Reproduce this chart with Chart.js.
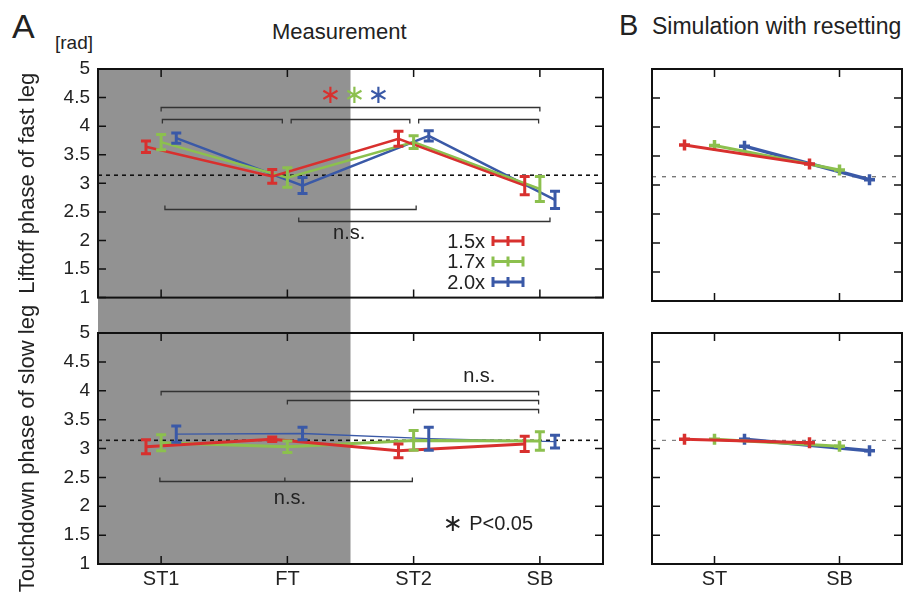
<!DOCTYPE html>
<html>
<head>
<meta charset="utf-8">
<script src="https://cdn.jsdelivr.net/npm/chart.js@4.4.0/dist/chart.umd.min.js"></script>
<style>
  body { margin: 0; background: #fff; }
  #fig { position: relative; width: 911px; height: 596px; font-family: "Liberation Sans", Arial, sans-serif; color: #222; }
  #fig canvas { position: absolute; }
  .lbl { position: absolute; white-space: nowrap; line-height: 1; }
</style>
</head>
<body>
<div id="fig">
  <div class="lbl" style="left:12px;top:9px;font-size:34px">A</div>
  <div class="lbl" style="left:55px;top:33px;font-size:19px">[rad]</div>
  <div class="lbl" style="left:272px;top:21px;font-size:22px">Measurement</div>
  <div class="lbl" style="left:619px;top:11px;font-size:29px">B</div>
  <div class="lbl" style="left:652px;top:15px;font-size:23px">Simulation with resetting</div>
  <canvas id="a1" width="620" height="317" style="left:0;top:0"></canvas>
  <canvas id="a2" width="620" height="296" style="left:0;top:300px"></canvas>
  <canvas id="b1" width="291" height="317" style="left:620px;top:0"></canvas>
  <canvas id="b2" width="291" height="296" style="left:620px;top:300px"></canvas>
</div>
<script>
// categories and ticks
const categories = ["ST1", "FT", "ST2", "SB"];
const simCategories = ["ST", "SB"];
const seriesLabels = ["1.5x", "1.7x", "2.0x"];
const seriesColors = ["#d8302e", "#8cc04e", "#3a59a7"];
const yTickValues = [1, 1.5, 2, 2.5, 3, 3.5, 4, 4.5, 5];

// measurement: liftoff phase of fast leg (mean / error)
const liftRed = [3.64, 3.12, 3.78, 2.96];
const liftGreen = [3.72, 3.10, 3.72, 2.90];
const liftBlue = [3.79, 2.96, 3.83, 2.71];
const liftRedErr = [0.10, 0.12, 0.13, 0.16];
const liftGreenErr = [0.135, 0.17, 0.11, 0.22];
const liftBlueErr = [0.09, 0.14, 0.09, 0.15];

// measurement: touchdown phase of slow leg (mean / error)
const touchRed = [3.03, 3.16, 2.96, 3.08];
const touchGreen = [3.10, 3.03, 3.14, 3.13];
const touchBlue = [3.25, 3.26, 3.17, 3.12];
const touchRedErr = [0.12, 0.04, 0.12, 0.13];
const touchGreenErr = [0.14, 0.10, 0.17, 0.16];
const touchBlueErr = [0.14, 0.11, 0.20, 0.11];

// simulation with resetting
const simLiftRed = [3.69, 3.36];
const simLiftGreen = [3.68, 3.26];
const simLiftBlue = [3.67, 3.09];
const simTouchRed = [3.16, 3.10];
const simTouchGreen = [3.16, 3.04];
const simTouchBlue = [3.16, 2.96];

// significance brackets (x in category units, y in rad)
const liftBrackets = [
  { from: 1, to: 4, y: 4.33, dir: "down" },
  { from: 1.01, to: 1.96, y: 4.12, dir: "down" },
  { from: 2.03, to: 2.97, y: 4.12, dir: "down" },
  { from: 3.04, to: 3.99, y: 4.12, dir: "down" },
  { from: 1.03, to: 3.02, y: 2.55, dir: "up" },
  { from: 2.09, to: 4.08, y: 2.34, dir: "up" }
];
const touchBrackets = [
  { from: 1, to: 3.99, y: 3.99, dir: "down" },
  { from: 2, to: 3.99, y: 3.84, dir: "down" },
  { from: 3, to: 3.99, y: 3.68, dir: "down" },
  { from: 0.99, to: 2.99, y: 2.44, dir: "up", mid: [1.98] }
];

const TXT = "#222";
const FONT = '"Liberation Sans", Arial, sans-serif';
const STAR = '"DejaVu Sans", sans-serif';

function decor(cfg) {
  return {
    id: "decor",
    beforeDatasetsDraw(chart) {
      const { ctx, chartArea: a, scales: { x, y } } = chart;
      ctx.save();
      if (cfg.gray) {
        // shaded phase; the top panel also fills the gap down to the lower panel
        const g1 = x.getPixelForValue(cfg.gray[0]);
        const g2 = x.getPixelForValue(cfg.gray[1]);
        const top = cfg.grayDown ? a.top : a.top - 16;
        const bot = cfg.grayDown ? chart.height : a.bottom;
        ctx.fillStyle = "#929292";
        ctx.fillRect(g1, top, g2 - g1, bot - top);
      }
      // reference line at pi
      const py = y.getPixelForValue(Math.PI);
      ctx.setLineDash(cfg.piDash);
      ctx.strokeStyle = cfg.piColor;
      ctx.lineWidth = cfg.piWidth;
      ctx.beginPath();
      ctx.moveTo(a.left, py);
      ctx.lineTo(a.right, py);
      ctx.stroke();
      ctx.setLineDash([]);
      // brackets
      ctx.strokeStyle = "#333";
      ctx.lineWidth = 1.3;
      (cfg.brackets || []).forEach(b => {
        const x1 = x.getPixelForValue(b.from), x2 = x.getPixelForValue(b.to);
        const yy = Math.round(y.getPixelForValue(b.y)) + 0.5;
        const t = b.dir === "up" ? -4 : 4;
        ctx.beginPath();
        ctx.moveTo(x1, yy + t); ctx.lineTo(x1, yy); ctx.lineTo(x2, yy); ctx.lineTo(x2, yy + t);
        (b.mid || []).forEach(m => {
          const xm = x.getPixelForValue(m);
          ctx.moveTo(xm, yy); ctx.lineTo(xm, yy + t);
        });
        ctx.stroke();
      });
      ctx.restore();
    },
    afterDatasetsDraw(chart) {
      const { ctx, chartArea: a, scales: { x, y } } = chart;
      ctx.save();
      // error bars
      if (cfg.errs) {
        ctx.lineWidth = 3;
        cfg.means.forEach((m, s) => {
          ctx.strokeStyle = seriesColors[s];
          m.forEach((v, i) => {
            const px = x.getPixelForValue(i + 1 + cfg.shift[s]);
            const e = cfg.errs[s][i];
            const y1 = y.getPixelForValue(v + e), y2 = y.getPixelForValue(v - e);
            ctx.beginPath();
            ctx.moveTo(px, y1); ctx.lineTo(px, y2);
            ctx.moveTo(px - 5, y1); ctx.lineTo(px + 5, y1);
            ctx.moveTo(px - 5, y2); ctx.lineTo(px + 5, y2);
            ctx.stroke();
          });
        });
      }
      // frame and inward ticks
      ctx.strokeStyle = "#111";
      ctx.lineWidth = 2;
      ctx.strokeRect(a.left, a.top, a.width, a.height);
      ctx.lineWidth = 1.5;
      ctx.beginPath();
      yTickValues.forEach(v => {
        const py = y.getPixelForValue(v);
        ctx.moveTo(a.left, py); ctx.lineTo(a.left + 8, py);
        ctx.moveTo(a.right, py); ctx.lineTo(a.right - 8, py);
      });
      cfg.cats.forEach((c, i) => {
        const px = x.getPixelForValue(i + 1);
        ctx.moveTo(px, a.top); ctx.lineTo(px, a.top + 8);
        ctx.moveTo(px, a.bottom); ctx.lineTo(px, a.bottom - 8);
      });
      ctx.stroke();
      // text annotations
      (cfg.texts || []).forEach(t => {
        ctx.fillStyle = t.color || TXT;
        ctx.font = t.font;
        ctx.textAlign = t.align || "center";
        ctx.textBaseline = "middle";
        ctx.fillText(t.text, x.getPixelForValue(t.x), y.getPixelForValue(t.y));
      });
      // legend with error-bar samples
      if (cfg.legend) {
        seriesLabels.forEach((lab, s) => {
          const ly = a.top + 172 + s * 20.5;
          const tx = a.left + 387;
          ctx.fillStyle = TXT;
          ctx.font = "20px " + FONT;
          ctx.textAlign = "right";
          ctx.textBaseline = "middle";
          ctx.fillText(lab, tx, ly + 1);
          const x1 = tx + 8, x2 = tx + 38, xm = (x1 + x2) / 2;
          ctx.strokeStyle = seriesColors[s];
          ctx.lineWidth = 3;
          ctx.beginPath();
          ctx.moveTo(x1, ly); ctx.lineTo(x2, ly);
          [x1, xm, x2].forEach(px => { ctx.moveTo(px, ly - 5); ctx.lineTo(px, ly + 5); });
          ctx.stroke();
        });
      }
      ctx.restore();
    }
  };
}

function makeChart(id, cfg) {
  const datasets = cfg.means.map((m, s) => ({
    label: seriesLabels[s],
    data: m.map((v, i) => ({ x: i + 1 + cfg.shift[s], y: v })),
    borderColor: seriesColors[s],
    backgroundColor: seriesColors[s],
    borderWidth: cfg.lineWidths[s],
    pointRadius: cfg.points ? 5.5 : 0,
    pointStyle: "cross",
    pointBorderWidth: 3.5,
    tension: 0
  }));
  return new Chart(document.getElementById(id), {
    type: "line",
    data: { datasets },
    options: {
      responsive: false,
      animation: false,
      devicePixelRatio: 1,
      layout: { padding: cfg.padding },
      plugins: { legend: { display: false }, tooltip: { enabled: false } },
      scales: {
        x: {
          type: "linear",
          min: 0.5,
          max: cfg.cats.length + 0.5,
          display: cfg.showX,
          afterBuildTicks: s => { s.ticks = cfg.cats.map((c, i) => ({ value: i + 1 })); },
          afterFit: s => { if (cfg.showX) s.height = 32; },
          grid: { display: false, drawTicks: false },
          border: { display: false },
          ticks: {
            autoSkip: false,
            maxRotation: 0,
            padding: 3,
            color: TXT,
            font: { family: FONT, size: 20 },
            callback: v => cfg.cats[Math.round(v) - 1]
          }
        },
        y: {
          type: "linear",
          min: 1,
          max: 5,
          display: cfg.showY,
          afterBuildTicks: s => { s.ticks = yTickValues.map(v => ({ value: v })); },
          afterFit: s => { if (cfg.showY) s.width = 98; },
          grid: { display: false, drawTicks: false },
          border: { display: false },
          ticks: { autoSkip: false, padding: 8, color: TXT, font: { family: FONT, size: 19 }, callback: v => String(v) },
          title: {
            display: !!cfg.yTitle,
            text: cfg.yTitle || "",
            color: TXT,
            font: { family: FONT, size: 22 },
            padding: { top: 15, bottom: 0 }
          }
        }
      }
    },
    plugins: [decor(cfg)]
  });
}

const shiftA = [-0.12, 0, 0.12];
const shiftB = [-0.24, 0, 0.24];

makeChart("a1", {
  cats: categories, shift: shiftA, showX: false, showY: true,
  yTitle: "Liftoff phase of fast leg",
  padding: { left: 0, right: 17, top: 69, bottom: 16 },
  means: [liftRed, liftGreen, liftBlue],
  errs: [liftRedErr, liftGreenErr, liftBlueErr],
  lineWidths: [2.5, 2.5, 2.5],
  gray: [0.5, 2.5], grayDown: true,
  piDash: [4, 4], piColor: "#111", piWidth: 1.6,
  brackets: liftBrackets,
  legend: true,
  texts: [
    { text: "∗", x: 2.34, y: 4.53, color: seriesColors[0], font: "26px " + STAR },
    { text: "∗", x: 2.53, y: 4.53, color: seriesColors[1], font: "26px " + STAR },
    { text: "∗", x: 2.72, y: 4.53, color: seriesColors[2], font: "26px " + STAR },
    { text: "n.s.", x: 2.49, y: 2.13, font: "20px " + FONT }
  ]
});

makeChart("a2", {
  cats: categories, shift: shiftA, showX: true, showY: true,
  yTitle: "Touchdown phase of slow leg",
  padding: { left: 0, right: 17, top: 33, bottom: 0 },
  means: [touchRed, touchGreen, touchBlue],
  errs: [touchRedErr, touchGreenErr, touchBlueErr],
  lineWidths: [3, 3, 1.3],
  gray: [0.5, 2.5], grayDown: false,
  piDash: [4, 4], piColor: "#111", piWidth: 1.6,
  brackets: touchBrackets,
  texts: [
    { text: "n.s.", x: 3.52, y: 4.25, font: "20px " + FONT },
    { text: "n.s.", x: 2.02, y: 2.13, font: "20px " + FONT },
    { text: "∗", x: 3.31, y: 1.68, font: "24px " + STAR },
    { text: "P<0.05", x: 3.44, y: 1.68, align: "left", font: "20px " + FONT }
  ]
});

makeChart("b1", {
  cats: simCategories, shift: shiftB, showX: false, showY: false,
  padding: { left: 32, right: 9, top: 69, bottom: 16 },
  means: [simLiftRed, simLiftGreen, simLiftBlue],
  lineWidths: [3, 3, 3.5], points: true,
  piDash: [4, 6], piColor: "#444", piWidth: 1
});

makeChart("b2", {
  cats: simCategories, shift: shiftB, showX: true, showY: false,
  padding: { left: 32, right: 9, top: 33, bottom: 0 },
  means: [simTouchRed, simTouchGreen, simTouchBlue],
  lineWidths: [3, 3, 3.5], points: true,
  piDash: [4, 6], piColor: "#666", piWidth: 1
});
</script>
</body>
</html>
